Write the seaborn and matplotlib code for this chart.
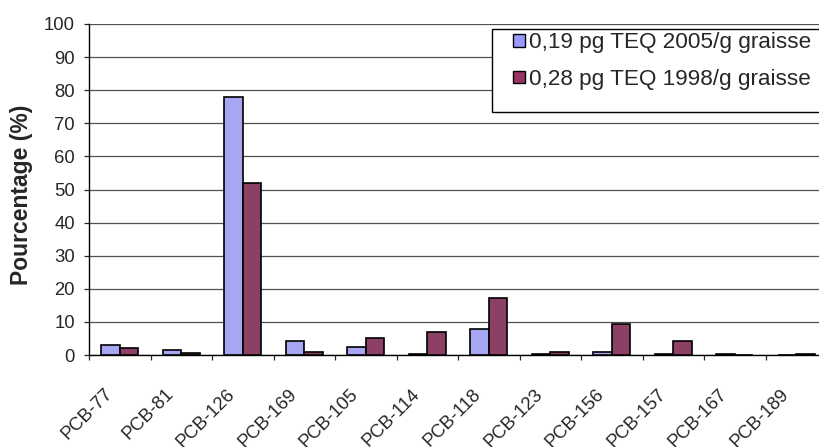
import numpy as np
import pandas as pd
import matplotlib
matplotlib.use("Agg")
import matplotlib.pyplot as plt
import matplotlib.transforms as mtransforms
from matplotlib.patches import Patch, Rectangle
import seaborn as sns

# Données
pcb = ['PCB-77', 'PCB-81', 'PCB-126', 'PCB-169', 'PCB-105', 'PCB-114',
       'PCB-118', 'PCB-123', 'PCB-156', 'PCB-157', 'PCB-167', 'PCB-189']
teq_2005 = [3.0, 1.5, 78.0, 4.1, 2.5, 0.3, 7.8, 0.3, 1.0, 0.3, 0.3, 0.0]
teq_1998 = [2.0, 0.5, 52.0, 1.0, 5.2, 6.8, 17.2, 1.0, 9.3, 4.1, 0.0, 0.3]
series = ['0,19 pg TEQ 2005/g graisse', '0,28 pg TEQ 1998/g graisse']
colors = ['#9999FF', '#993366']

df = pd.DataFrame({
    'pcb': pcb * 2,
    'pct': teq_2005 + teq_1998,
    'serie': [series[0]] * len(pcb) + [series[1]] * len(pcb),
})

sns.set_style('white')
plt.rcParams['font.family'] = ['Liberation Sans', 'DejaVu Sans']
plt.rcParams['font.size'] = 13

W, H = 819, 447
fig = plt.figure(figsize=(W / 100, H / 100), dpi=100)
ax = fig.add_axes([89 / W, 92 / H, 738 / W, 331 / H])

sns.barplot(data=df, x='pcb', y='pct', hue='serie', palette=colors,
            width=0.6, gap=0, edgecolor='black', linewidth=1.2,
            legend=False, ax=ax, zorder=3)

ax.set_xlim(-0.5, len(pcb) - 0.5)
ax.set_ylim(0, 100)
ax.set_yticks(np.arange(0, 101, 10))
ax.yaxis.grid(True, color='#505050', linewidth=0.9, zorder=0)
ax.set_axisbelow(True)

for side in ['top', 'right']:
    ax.spines[side].set_visible(False)
ax.spines['left'].set_color('black')
ax.spines['bottom'].set_color('black')
ax.spines['left'].set_linewidth(1.0)
ax.spines['bottom'].set_linewidth(1.0)

ax.tick_params(axis='y', direction='out', length=3.6, width=0.9, pad=6.5,
               left=True, labelsize=13.3)
ax.set_xticks(np.arange(-0.5, len(pcb), 1), minor=True)
ax.tick_params(axis='x', which='minor', direction='out', length=3.6, width=0.9,
               bottom=True)
ax.tick_params(axis='x', which='major', length=0, pad=22, labelsize=13.3)

shift = mtransforms.ScaledTranslation(-16 / 100, 0, fig.dpi_scale_trans)
for lab in ax.get_xticklabels():
    lab.set_rotation(45)
    lab.set_ha('right')
    lab.set_va('top')
    lab.set_rotation_mode('anchor')
    lab.set_transform(lab.get_transform() + shift)

ax.set_xlabel('')
ax.set_ylabel('Pourcentage (%)', fontsize=16.5, fontweight='bold')
ax.yaxis.set_label_coords((33 - 89) / 738, 0.483)

# cadre de légende
ax.add_patch(Rectangle((492 / W, 1 - 112 / H), 0.45, 83 / H,
                       transform=fig.transFigure, clip_on=False,
                       facecolor='white', edgecolor='black', linewidth=1.0,
                       zorder=4))
handles = [Patch(facecolor=c, edgecolor='black', linewidth=1.0) for c in colors]
leg = ax.legend(handles, series, loc='upper left',
                bbox_to_anchor=(511 / W, 1 - 30 / H), bbox_transform=fig.transFigure,
                frameon=False, borderpad=0.1, borderaxespad=0,
                handlelength=0.5, handleheight=0.5, handletextpad=0.2,
                labelspacing=0.7, fontsize=16.2)
leg.set_zorder(5)

fig.savefig('out.png', dpi=100, facecolor='white')
